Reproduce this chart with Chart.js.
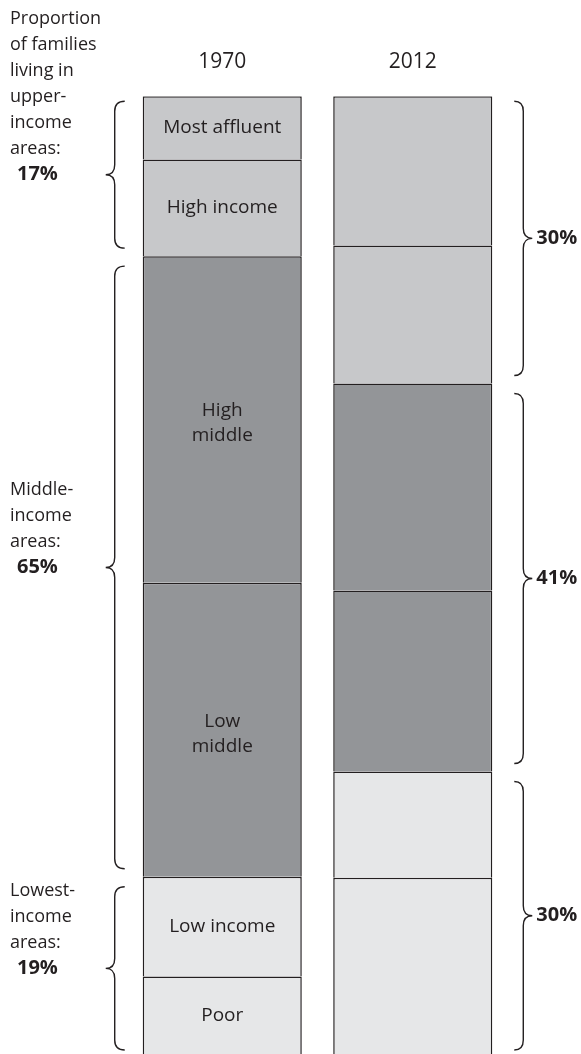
<!DOCTYPE html>
<html>
<head>
<meta charset="utf-8">
<script src="https://cdn.jsdelivr.net/npm/chart.js@4/dist/chart.umd.min.js"></script>
<style>
  html, body { margin: 0; padding: 0; background: #fff; }
  #wrap { width: 581px; height: 1054px; position: relative; }
</style>
</head>
<body>
<div id="wrap"><canvas id="familiesChart"></canvas></div>
<script>
const years = ["1970", "2012"];
const segmentNames = ["Poor", "Low income", "Low middle", "High middle", "High income", "Most affluent"];
const segmentLines = [["Poor"], ["Low income"], ["Low", "middle"], ["High", "middle"], ["High income"], ["Most affluent"]];
const share1970 = [8.1, 10.4, 30.7, 34.1, 10.1, 6.6];
const share2012 = [18.4, 11.1, 18.9, 21.6, 14.4, 15.6];
const segmentColors = ["#e6e7e8", "#e6e7e8", "#939598", "#939598", "#c7c8ca", "#c7c8ca"];

// each income group spans two segments (first, last index)
const groupRanges = [[0, 1], [2, 3], [4, 5]];
const groupText = [
  ["Lowest-", "income", "areas:"],
  ["Middle-", "income", "areas:"],
  ["Proportion", "of families", "living in", "upper-", "income", "areas:"],
];
const groupTotal1970 = ["19%", "65%", "17%"];
const groupTotal2012 = ["30%", "41%", "30%"];

const ink = "#231f20";
const family = "'Open Sans', sans-serif";

function drawBrace(ctx, xEnd, xLine, xTip, top, bottom, r) {
  const mid = (top + bottom) / 2;
  ctx.beginPath();
  ctx.moveTo(xEnd, top);
  ctx.quadraticCurveTo(xLine, top, xLine, top + r);
  ctx.lineTo(xLine, mid - r);
  ctx.quadraticCurveTo(xLine, mid, xTip, mid);
  ctx.quadraticCurveTo(xLine, mid, xLine, mid + r);
  ctx.lineTo(xLine, bottom - r);
  ctx.quadraticCurveTo(xLine, bottom, xEnd, bottom);
  ctx.stroke();
  return mid;
}

const annotations = {
  id: "annotations",
  afterDatasetsDraw(chart) {
    const ctx = chart.ctx;
    const yScale = chart.scales.y;
    ctx.save();
    ctx.fillStyle = ink;
    ctx.strokeStyle = ink;
    ctx.lineWidth = 1.4;
    ctx.textBaseline = "middle";

    // segment names inside the 1970 bar
    ctx.textAlign = "center";
    ctx.font = `19px ${family}`;
    segmentLines.forEach((lines, i) => {
      const bar = chart.getDatasetMeta(i).data[0];
      const cy = (bar.y + bar.base) / 2 + (lines.length > 1 ? 4 : 0);
      lines.forEach((t, k) => {
        ctx.fillText(t, bar.x, cy + (k - (lines.length - 1) / 2) * 25);
      });
    });

    // braces left of 1970 and right of 2012
    const bar70 = chart.getDatasetMeta(0).data[0];
    const bar12 = chart.getDatasetMeta(0).data[1];
    const left70 = bar70.x - bar70.width / 2;
    const right12 = bar12.x + bar12.width / 2;
    const lastGroup = groupRanges.length - 1;

    groupRanges.forEach(([first, last], g) => {
      [share1970, share2012].forEach((shares, col) => {
        const below = shares.slice(0, first).reduce((a, b) => a + b, 0);
        const upto = shares.slice(0, last + 1).reduce((a, b) => a + b, 0);
        const top = yScale.getPixelForValue(upto) + (g === lastGroup ? 5 : 10);
        const bottom = yScale.getPixelForValue(below) - (g === 0 ? 4 : 8);
        ctx.textAlign = "left";
        if (col === 0) {
          const mid = drawBrace(ctx, left70 - 18, left70 - 28, left70 - 37, top, bottom, 10);
          ctx.font = `18px ${family}`;
          const lines = groupText[g];
          lines.forEach((t, k) => {
            ctx.fillText(t, 10, mid - (lines.length - k) * 26);
          });
          ctx.font = `bold 20px ${family}`;
          ctx.fillText(groupTotal1970[g], 17, mid);
        } else {
          const mid = drawBrace(ctx, right12 + 22, right12 + 31, right12 + 40, top, bottom, 10);
          ctx.font = `bold 20px ${family}`;
          ctx.fillText(groupTotal2012[g], right12 + 44, mid);
        }
      });
    });
    ctx.restore();
  },
};

const datasets = segmentNames.map((name, i) => ({
  label: name,
  data: [share1970[i], share2012[i]],
  backgroundColor: segmentColors[i],
  borderColor: ink,
  borderWidth: { top: 1.5, left: 1.5, right: 1.5, bottom: 0 },
  borderSkipped: false,
  categoryPercentage: 0.835,
  barPercentage: 1,
}));

new Chart(document.getElementById("familiesChart"), {
  type: "bar",
  data: { labels: years, datasets: datasets },
  options: {
    responsive: true,
    maintainAspectRatio: false,
    animation: false,
    layout: { padding: { left: 127, right: 73, top: 27, bottom: 0 } },
    scales: {
      x: {
        stacked: true,
        position: "top",
        grid: { display: false, drawTicks: false },
        border: { display: false },
        ticks: { color: ink, padding: 22, font: { family: family, size: 21 } },
      },
      y: {
        stacked: true,
        display: false,
        min: 0,
        max: 100,
      },
    },
    plugins: {
      legend: { display: false },
      tooltip: { enabled: false },
    },
  },
  plugins: [annotations],
});
</script>
</body>
</html>
